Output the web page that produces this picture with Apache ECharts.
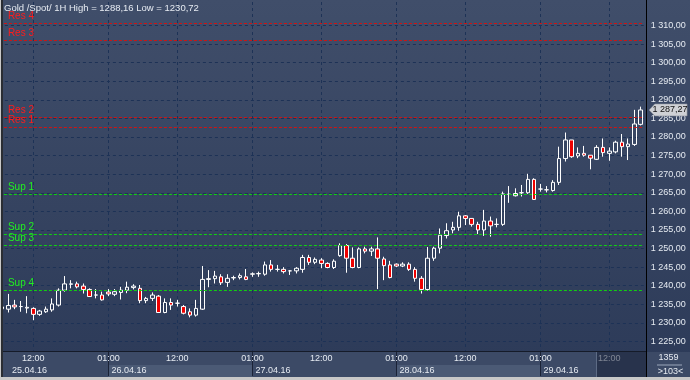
<!DOCTYPE html>
<html><head><meta charset="utf-8">
<script src="https://cdn.jsdelivr.net/npm/echarts@6/dist/echarts.min.js"></script>
<style>html,body{margin:0;padding:0;background:#fff}#c{width:690px;height:380px}</style>
</head><body><div id="c"></div>
<script>
// ---------- data ----------
const titleText = 'Gold /Spot/ 1H High = 1288,16 Low = 1230,72';
const days = ['25.04.16','26.04.16','27.04.16','28.04.16','29.04.16'];
const firstHour = [7, 1, 1, 1, 1];   // 00:00 bar missing each day (market break)
const lastHour  = [23, 23, 23, 23, 17];
const opens = [
1233.8,1233.7,1234.8,1234.4,1234.0,1233.9,1232.3,1233.0,1233.5,1234.8,
1238.8,1240.4,1240.5,1239.9,1239.0,1237.5,1237.5,1238.3,1237.7,1238.2,
1238.8,1239.5,1239.3,1236.0,1236.6,1237.2,1232.8,1235.5,1235.3,1234.4,
1233.0,1232.1,1233.7,1241.7,1241.9,1242.4,1240.9,1242.1,1242.2,1242.4,
1243.1,1243.2,1243.1,1245.6,1244.4,1244.4,1244.0,1244.0,1244.4,1247.6,
1246.3,1246.9,1246.0,1244.9,1248.1,1250.8,1247.4,1244.9,1249.9,1249.3,
1249.9,1247.2,1245.6,1245.8,1245.3,1245.8,1244.4,1242.0,1239.0,1247.4,
1250.1,1253.5,1255.0,1255.7,1258.8,1258.1,1256.5,1255.0,1257.4,1256.5,
1256.5,1264.6,1264.2,1265.0,1265.0,1268.6,1266.0,1265.8,1265.6,1267.8,
1274.2,1279.2,1274.9,1275.6,1275.1,1274.0,1277.2,1275.6,1276.0,1278.6,
1277.4,1278.0,1283.4];
const closes = [
1234.3,1234.7,1234.3,1234.4,1234.2,1232.3,1233.2,1233.7,1235.1,1238.8,
1240.5,1240.5,1239.7,1239.0,1237.1,1237.5,1236.2,1237.8,1238.4,1238.8,
1239.6,1239.9,1236.0,1236.6,1237.5,1232.8,1235.5,1234.8,1235.3,1232.6,
1232.1,1233.9,1241.7,1241.9,1242.6,1240.8,1242.0,1242.2,1242.7,1241.7,
1243.2,1243.3,1245.6,1244.4,1244.4,1243.8,1244.0,1244.7,1247.6,1246.3,
1247.1,1246.0,1244.9,1246.6,1250.8,1247.4,1244.9,1249.9,1249.3,1249.9,
1247.4,1245.4,1242.2,1245.3,1245.8,1244.4,1242.0,1239.0,1247.4,1250.1,
1253.6,1254.8,1255.7,1258.8,1258.1,1256.5,1255.0,1257.4,1256.1,1256.5,
1264.7,1264.6,1264.8,1265.0,1268.6,1263.2,1266.0,1265.8,1267.8,1274.2,
1279.2,1274.7,1275.6,1275.1,1274.3,1277.2,1275.8,1276.2,1278.6,1277.4,
1278.1,1283.5,1287.27];
const lows = [
1233.6,1232.8,1233.7,1233.0,1232.6,1230.72,1231.9,1232.7,1233.0,1234.4,
1238.4,1239.3,1239.3,1237.9,1237.1,1236.6,1236.0,1237.2,1237.2,1236.3,
1238.0,1239.0,1235.3,1235.3,1235.9,1232.7,1232.6,1233.5,1234.4,1232.3,
1231.5,1231.7,1233.5,1239.6,1240.6,1240.2,1239.7,1241.5,1241.7,1241.5,
1242.4,1242.4,1242.7,1243.8,1243.8,1243.3,1242.9,1243.3,1243.5,1245.6,
1245.8,1244.7,1244.7,1244.5,1247.8,1243.5,1244.7,1244.7,1248.7,1248.0,
1239.1,1241.5,1242.0,1245.0,1245.0,1244.0,1241.1,1237.9,1238.7,1246.7,
1248.7,1252.7,1254.1,1254.8,1256.3,1255.9,1253.9,1253.4,1253.2,1255.7,
1256.1,1262.3,1264.0,1264.0,1264.7,1263.1,1265.3,1265.1,1265.3,1267.1,
1273.4,1274.4,1274.3,1274.7,1271.3,1273.8,1274.7,1273.6,1275.6,1274.7,
1273.8,1277.6,1283.1];
const highs = [
1234.5,1237.8,1236.2,1235.9,1237.2,1234.2,1233.5,1234.4,1236.6,1239.3,
1242.6,1241.5,1241.1,1240.6,1239.3,1239.1,1238.4,1239.1,1239.1,1239.7,
1241.1,1240.4,1240.2,1237.0,1238.2,1237.5,1236.6,1236.6,1236.2,1234.8,
1233.9,1236.2,1245.3,1244.2,1244.0,1243.1,1243.1,1242.7,1243.3,1244.5,
1243.6,1243.8,1246.5,1246.9,1245.6,1245.0,1244.2,1245.0,1248.3,1248.3,
1247.6,1247.4,1246.3,1247.1,1251.4,1251.2,1250.3,1250.3,1250.5,1250.5,
1253.0,1247.8,1246.7,1246.0,1246.3,1246.3,1245.0,1242.6,1250.4,1250.5,
1255.4,1256.8,1257.2,1259.9,1259.0,1258.1,1257.2,1260.4,1258.6,1258.1,
1265.3,1266.8,1266.2,1267.1,1270.1,1268.9,1267.4,1266.8,1268.4,1277.4,
1281.2,1279.2,1277.2,1277.6,1275.1,1277.8,1279.6,1277.2,1279.0,1280.8,
1279.6,1287.3,1288.16];
const yTicks = [1225,1230,1235,1240,1245,1250,1255,1260,1265,1270,1275,1280,1285,1290,1295,1300,1305,1310];
const levelNames  = ['Res 4','Res 3','Res 2','Res 1','Sup 1','Sup 2','Sup 3','Sup 4'];
const levelValues = [1310.6, 1305.9, 1285.2, 1282.5, 1264.6, 1253.8, 1250.9, 1238.85];
const lastPrice = 1287.27;
const barCountText = '1359';
const visibleBarsText = '>103<';

// ---------- build ----------
const categories = [];
days.forEach((d, k) => {
  for (let h = firstHour[k]; h <= lastHour[k]; h++) categories.push(d + ' ' + String(h).padStart(2, '0') + ':00');
});
const hourOf = v => v.slice(9, 11);
const isDayStart = v => hourOf(v) === '01';
const isMark = v => hourOf(v) === '12' || hourOf(v) === '01';
const fmt = v => { const s = Number(v).toFixed(2).replace('.', ','); return s.charAt(0) + ' ' + s.slice(1); };
const FONT = "'Liberation Sans', Arial, sans-serif";
const TXT = '#e6ebf2';
const GRIDC = '#1d3256';

const chart = echarts.init(document.getElementById('c'), null, {renderer: 'canvas'});
chart.setOption({
  animation: false,
  backgroundColor: {type: 'linear', x: 0, y: 0, x2: 0, y2: 1,
    colorStops: [{offset: 0, color: '#404e6a'}, {offset: 1, color: '#2c3a58'}]},
  title: {text: titleText, left: 4, top: 3, padding: 0,
    textStyle: {color: TXT, fontSize: 9.5, fontWeight: 'normal', fontFamily: FONT}},
  grid: [
    {left: -1.1, width: 644.8, top: 2, bottom: 29, outerBoundsMode: 'none'},
    {left: -1.1, width: 644.8, top: 365, height: 12, outerBoundsMode: 'none'}
  ],
  xAxis: [
    {type: 'category', gridIndex: 0, data: categories, boundaryGap: true, position: 'bottom',
      axisLine: {show: false},
      axisTick: {show: true, interval: (i, v) => isDayStart(v), alignWithLabel: true, length: 25,
        lineStyle: {color: '#1a2236', width: 1}},
      axisLabel: {show: true, interval: (i, v) => isMark(v), formatter: v => v.slice(9),
        color: TXT, fontSize: 9, fontFamily: FONT, margin: 3},
      splitLine: {show: true, interval: (i, v) => isMark(v), alignWithLabel: true,
        lineStyle: {color: GRIDC, type: [3, 3], width: 1}}
    },
    {type: 'category', gridIndex: 1, data: categories, boundaryGap: true, position: 'top', z: -1,
      axisLine: {show: false}, axisTick: {show: false},
      axisLabel: {show: true, inside: true, margin: 1,
        interval: (i, v) => i === 0 || isDayStart(v),
        formatter: (v, i) => (i === 0 ? '{f|' : '{d|') + v.slice(0, 8) + '}',
        align: 'left', color: TXT, fontSize: 9, fontFamily: FONT,
        rich: {f: {padding: [0, 0, 0, 10]}, d: {padding: [0, 0, 0, 3]}}},
      splitArea: {show: true, interval: (i, v) => isDayStart(v), alignWithLabel: true,
        areaStyle: {color: ['#4b5a75', 'rgba(0,0,0,0)']}}
    }
  ],
  yAxis: [
    {type: 'value', gridIndex: 0, position: 'right', offset: 3, min: 1222.45, max: 1316.3,
      axisLine: {show: false}, axisTick: {show: false, customValues: yTicks},
      axisLabel: {customValues: yTicks, formatter: fmt, color: TXT, fontSize: 9, fontFamily: FONT, margin: 4},
      splitLine: {show: true, lineStyle: {color: GRIDC, type: [3, 3], width: 1}}
    },
    {type: 'value', gridIndex: 1, show: false, min: 0, max: 1}
  ],
  series: [{
    type: 'candlestick', xAxisIndex: 0, yAxisIndex: 0, barWidth: 4,
    data: categories.map((c, i) => [opens[i], closes[i], lows[i], highs[i]]),
    itemStyle: {color: 'rgba(0,0,0,0)', color0: '#ee0000', borderColor: '#ffffff', borderColor0: '#ffffff', borderWidth: 1},
    markLine: {
      symbol: 'none', silent: true, animation: false,
      label: {show: true, position: 'insideStartTop', formatter: '{b}', distance: [9, 2], fontSize: 10, fontFamily: FONT},
      data: levelNames.map((n, k) => {
        const res = n.indexOf('Res') === 0;
        return {name: n, yAxis: levelValues[k],
          lineStyle: {color: res ? '#d01414' : '#10d010', type: [3, 2], width: 1},
          label: {color: res ? '#ff1c1c' : '#22ee22'}};
      })
    },
    markPoint: {
      silent: true, animation: false,
      symbol: 'path://M0,6L6,0L40,0L40,12L6,12Z', symbolSize: [38, 12], symbolKeepAspect: false, symbolOffset: [27.5, 0],
      itemStyle: {color: '#cfd1d5', borderColor: '#8a8f98', borderWidth: 0.5},
      label: {show: true, position: 'inside', formatter: p => fmt(p.value), color: '#111', fontSize: 9, fontFamily: FONT, offset: [2, 0]},
      data: [{coord: [categories[categories.length - 1], lastPrice], value: lastPrice}]
    }
  }],
  graphic: [
    {type: 'rect', z: -10, shape: {x: 3, y: 352, width: 644, height: 25}, style: {fill: '#3c4a66'}},
    {type: 'rect', z: -10, shape: {x: 647, y: 352, width: 43, height: 25}, style: {fill: '#3c4a66'}},
    {type: 'rect', z: 30, shape: {x: 597, y: 352, width: 49.5, height: 25}, style: {fill: 'rgba(20,28,50,0.5)'}},
    {type: 'rect', z: 31, shape: {x: 596, y: 352, width: 1, height: 25}, style: {fill: '#5d6b85'}},
    {type: 'rect', z: 31, shape: {x: 3, y: 351, width: 644, height: 1}, style: {fill: '#151b29'}},
    {type: 'rect', z: 31, shape: {x: 646, y: 0, width: 1, height: 377}, style: {fill: '#000000'}},
    {type: 'rect', z: 31, shape: {x: 0, y: 377, width: 690, height: 3}, style: {fill: '#c8c8c8'}},
    {type: 'rect', z: 31, shape: {x: 0, y: 0, width: 1, height: 380}, style: {fill: '#c8c8c8'}},
    {type: 'rect', z: 31, shape: {x: 1, y: 0, width: 2, height: 377}, style: {fill: '#2a2d33'}},
    {type: 'text', z: 31, x: 668.5, y: 357.5, style: {text: barCountText, fill: TXT, font: "9px 'Liberation Sans', Arial", align: 'center', verticalAlign: 'middle'}},
    {type: 'rect', z: 31, shape: {x: 657, y: 364.5, width: 25, height: 1}, style: {fill: '#9aa6ba'}},
    {type: 'text', z: 31, x: 670.5, y: 372, style: {text: visibleBarsText, fill: TXT, font: "9px 'Liberation Sans', Arial", align: 'center', verticalAlign: 'middle'}}
  ]
});
</script></body></html>
